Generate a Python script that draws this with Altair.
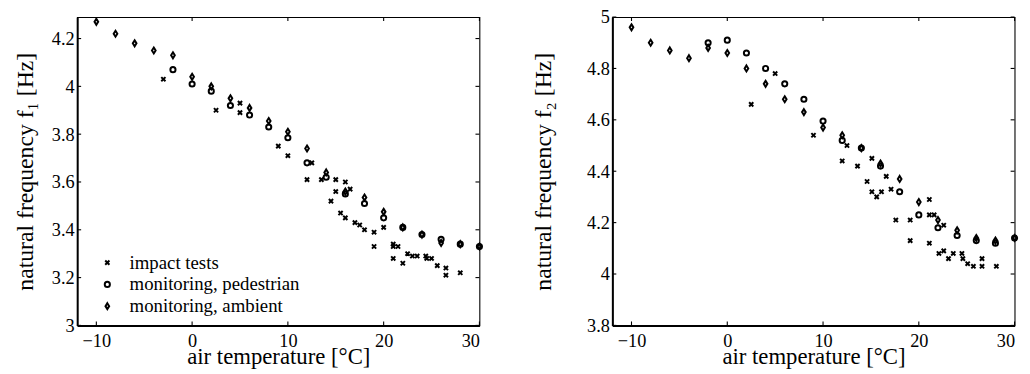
import altair as alt
import pandas as pd

SERIES = ["impact tests", "monitoring, pedestrian", "monitoring, ambient"]

# ---- first natural frequency f1 ----
amb_t = [-10, -8, -6, -4, -2, 0, 2, 4, 6, 8, 10, 12, 14, 16, 18, 20, 22, 24, 26, 28, 30]
f1_amb = [4.27, 4.22, 4.18, 4.15, 4.13, 4.04, 4.00, 3.95, 3.91, 3.855, 3.81, 3.74, 3.64,
          3.56, 3.535, 3.475, 3.41, 3.38, 3.345, 3.34, 3.33]
ped_t = [-2, 0, 2, 4, 6, 8, 10, 12, 14, 16, 18, 20, 22, 24, 26, 28, 30]
f1_ped = [4.07, 4.01, 3.98, 3.92, 3.88, 3.83, 3.785, 3.68, 3.62, 3.55, 3.51, 3.45, 3.41,
          3.38, 3.36, 3.34, 3.33]
f1_imp_t = [-3, 2.5, 5, 5, 9, 10, 12.5, 12, 13.5, 15, 16, 15, 16.5, 14.5, 15.5, 16, 17, 17.5,
            18, 19, 19, 20, 21, 21, 21.5, 21, 22, 22.5, 23, 23.5, 24.4, 24.5, 25, 25.6, 26.5,
            26.5, 28]
f1_imp = [4.03, 3.90, 3.93, 3.89, 3.75, 3.71, 3.68, 3.61, 3.61, 3.61, 3.60, 3.56, 3.57, 3.52,
          3.47, 3.45, 3.43, 3.42, 3.40, 3.39, 3.33, 3.41, 3.34, 3.33, 3.33, 3.28, 3.26, 3.30,
          3.29, 3.29, 3.29, 3.28, 3.28, 3.25, 3.24, 3.21, 3.22]

# ---- second natural frequency f2 ----
f2_amb = [4.96, 4.90, 4.87, 4.84, 4.88, 4.86, 4.80, 4.74, 4.68, 4.63, 4.57, 4.54, 4.49,
          4.43, 4.37, 4.28, 4.21, 4.17, 4.14, 4.13, 4.14]
f2_ped = [4.90, 4.91, 4.86, 4.80, 4.74, 4.68, 4.595, 4.52, 4.49, 4.42, 4.32, 4.23, 4.18,
          4.15, 4.13, 4.12, 4.14]
f2_imp_t = [2.5, 5, 9, 12.5, 12, 13.6, 15.1, 14.6, 16.6, 15.1, 15.6, 16.1, 17.1, 17.6, 19.1,
            19.1, 21.1, 21.1, 21.6, 21.1, 22.6, 22.1, 22.6, 23.1, 23.6, 24.5, 24.6, 25.1,
            25.7, 26.6, 26.6, 28.1]
f2_imp = [4.66, 4.78, 4.54, 4.50, 4.44, 4.42, 4.45, 4.36, 4.38, 4.32, 4.30, 4.32, 4.33, 4.21,
          4.21, 4.13, 4.29, 4.23, 4.23, 4.12, 4.19, 4.08, 4.09, 4.06, 4.08, 4.08, 4.06, 4.04,
          4.03, 4.06, 4.03, 4.03]

x_ticks = [-10, 0, 10, 20, 30]
y1_ticks = [3.0, 3.2, 3.4, 3.6, 3.8, 4.0, 4.2]
y2_ticks = [3.8, 4.0, 4.2, 4.4, 4.6, 4.8, 5.0]

W, H = 407, 312
TICK = 4
X_PATH = "M-1,-1L1,1M-1,1L1,-1"
DIAMOND = "M0,-1L0.62,0L0,1L-0.62,0Z"
FONT = "Liberation Serif"


def frame(imp_t, imp, amb, ped):
    rows = []
    for t, v in zip(imp_t, imp):
        rows.append({"temp": t, "f": v, "series": SERIES[0]})
    for t, v in zip(ped_t, ped):
        rows.append({"temp": t, "f": v, "series": SERIES[1]})
    for t, v in zip(amb_t, amb):
        rows.append({"temp": t, "f": v, "series": SERIES[2]})
    return pd.DataFrame(rows)


def panel(df, ydom, yticks, ytitle, ytitle_pad):
    xs = alt.Scale(domain=[-12, 30], nice=False, zero=False)
    ys = alt.Scale(domain=ydom, nice=False, zero=False)
    xax = alt.Axis(values=x_ticks, title="air temperature [°C]", format="~g",
                   labelPadding=6, titlePadding=-4, titleFontSize=23,
                   domain=True, domainColor="black", domainWidth=2,
                   ticks=False, tickSize=0)
    yax = alt.Axis(values=yticks, title=ytitle, format="~g",
                   labelPadding=3, titlePadding=ytitle_pad, titleFontSize=24,
                   domain=True, domainColor="black", domainWidth=2,
                   ticks=False, tickSize=0)
    xt = pd.DataFrame({"temp": x_ticks})
    yt = pd.DataFrame({"f": yticks})
    # inward tick marks drawn as rules through the shared scales
    bot = alt.Chart(xt).mark_rule(color="black", strokeWidth=1.1).encode(
        x=alt.X("temp:Q", scale=xs, axis=xax), y=alt.value(H), y2=alt.value(H - TICK))
    top = alt.Chart(xt).mark_rule(color="black", strokeWidth=1.1).encode(
        x="temp:Q", y=alt.value(0), y2=alt.value(TICK))
    lft = alt.Chart(yt).mark_rule(color="black", strokeWidth=1.1).encode(
        y=alt.Y("f:Q", scale=ys, axis=yax), x=alt.value(0), x2=alt.value(TICK))
    rgt = alt.Chart(yt).mark_rule(color="black", strokeWidth=1.1).encode(
        y="f:Q", x=alt.value(W - TICK), x2=alt.value(W))
    leg = alt.Legend(title=None, orient="none", legendX=21, legendY=239)
    pts = alt.Chart(df).mark_point(filled=False, color="black", strokeWidth=2, opacity=1).encode(
        x="temp:Q",
        y="f:Q",
        shape=alt.Shape("series:N",
                        scale=alt.Scale(domain=SERIES, range=[X_PATH, "circle", DIAMOND]),
                        legend=leg),
        size=alt.Size("series:N", scale=alt.Scale(domain=SERIES, range=[18, 36, 90]),
                      legend=leg),
    )
    return alt.layer(bot, top, lft, rgt, pts).properties(width=W, height=H)


left = panel(frame(f1_imp_t, f1_imp, f1_amb, f1_ped), [3.0, 4.29], y1_ticks,
             "natural frequency f\u2081 [Hz]", 14)
right = panel(frame(f2_imp_t, f2_imp, f2_amb, f2_ped), [3.8, 5.0], y2_ticks,
              "natural frequency f\u2082 [Hz]", 31)

chart = alt.hconcat(left, right, spacing=44.5).properties(
    padding={"left": 5, "top": -3, "right": 0, "bottom": 0}
).configure_view(stroke="black", strokeWidth=1.1).configure_axis(
    grid=False, labelFont=FONT, labelFontSize=18.5, labelColor="black",
    titleFont=FONT, titleFontWeight="normal", titleColor="black",
).configure_legend(
    labelFont=FONT, labelFontSize=19, labelColor="black", symbolStrokeWidth=2,
    symbolStrokeColor="black", rowPadding=2, labelOffset=13, padding=0, labelLimit=400,
)

chart.save("out.html", embed_options={"renderer": "svg", "actions": False})
